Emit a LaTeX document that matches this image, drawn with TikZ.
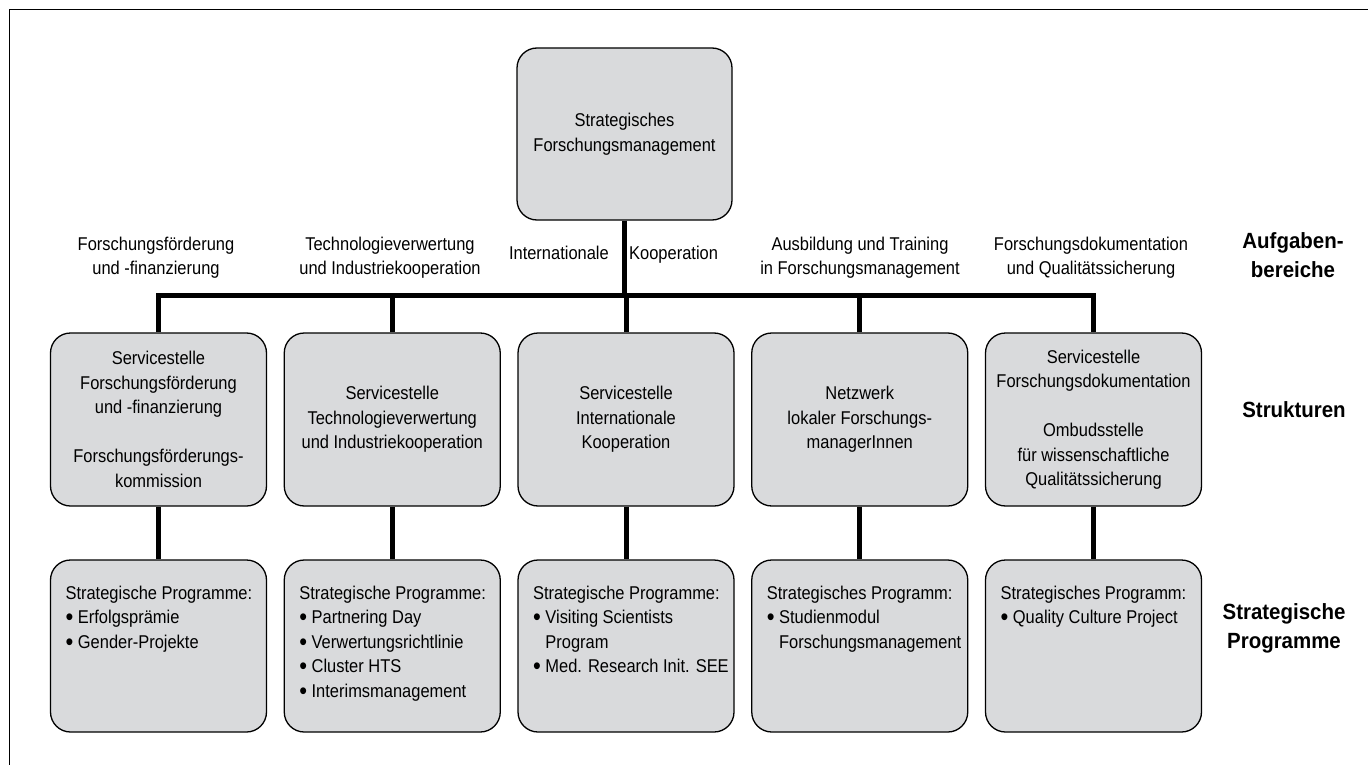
\documentclass[tikz,border=0pt]{standalone}
\usepackage{fontspec}
\setmainfont{Liberation Sans}[FakeStretch=0.89]
\newfontfamily\labelfont{Liberation Sans}[FakeStretch=0.93]
\definecolor{boxgray}{HTML}{D9DADC}
\newcommand\mybul{\raisebox{-0.11em}{\scalebox{1.35}{\textbullet}}}
\begin{document}
\begin{tikzpicture}[x=1pt,y=-1pt,
  txt/.style={font=\fontsize{18.5}{24.5}\selectfont, inner sep=0pt, align=center},
  cat/.style={font=\labelfont\bfseries\fontsize{22}{29}\selectfont, inner sep=0pt, align=center},
  gbox/.style={draw=black, line width=1.3pt, fill=boxgray, rounded corners=20pt,
    minimum width=216pt, minimum height=173pt, inner sep=0pt,
    font=\fontsize{18.5}{24.5}\selectfont, align=center},
  ptext/.style={font=\fontsize{18.5}{24.5}\selectfont, inner sep=0pt, align=left, anchor=north west},
  conn/.style={line width=5pt, line join=miter, line cap=butt},
  frame/.style={line width=1.5pt}]
\useasboundingbox (0,0) rectangle (1368,765);
\draw[frame] (9.5,780) -- (9.5,9.5) -- (1380,9.5);

% top box
\node[gbox, minimum width=215pt, minimum height=172pt] (top) at (624.5,134) {Strategisches\\Forschungsmanagement};

% structure boxes
\node[gbox] (s1) at (158.5,419.5) {Servicestelle\\Forschungsförderung\\und -finanzierung\\[24.5pt]Forschungsförderungs-\\kommission};
\node[gbox] (s2) at (392.25,419.5) {Servicestelle\\Technologieverwertung\\und Industriekooperation};
\node[gbox] (s3) at (626,419.5) {Servicestelle\\Internationale\\Kooperation};
\node[gbox] (s4) at (859.75,419.5) {Netzwerk\\lokaler Forschungs-\\managerInnen};
\node[gbox] (s5) at (1093.5,419.5) {Servicestelle\\Forschungsdokumentation\\[24.5pt]Ombudsstelle\\für wissenschaftliche\\Qualitätssicherung};

% programme boxes
\node[gbox, minimum height=172pt] (p1) at (158.5,646) {};
\node[gbox, minimum height=172pt] (p2) at (392.25,646) {};
\node[gbox, minimum height=172pt] (p3) at (626,646) {};
\node[gbox, minimum height=172pt] (p4) at (859.75,646) {};
\node[gbox, minimum height=172pt] (p5) at (1093.5,646) {};

\node[ptext] (t1) at ([xshift=15.5pt,yshift=-26.5pt]p1.north west) {Strategische Programme:\\\mybul\ Erfolgsprämie\\\mybul\ Gender-Projekte};
\node[ptext] (t2) at ([xshift=15.5pt,yshift=-26.5pt]p2.north west) {Strategische Programme:\\\mybul\ Partnering Day\\\mybul\ Verwertungsrichtlinie\\\mybul\ Cluster HTS\\\mybul\ Interimsmanagement};
\node[ptext] (t3) at ([xshift=15.5pt,yshift=-26.5pt]p3.north west) {Strategische Programme:\\\mybul\ Visiting Scientists\\\phantom{\mybul\ }Program\\\mybul\ Med. Research Init. SEE};
\node[ptext] (t4) at ([xshift=15.5pt,yshift=-26.5pt]p4.north west) {Strategisches Programm:\\\mybul\ Studienmodul\\\phantom{\mybul\ }Forschungsmanagement};
\node[ptext] (t5) at ([xshift=15.5pt,yshift=-26.5pt]p5.north west) {Strategisches Programm:\\\mybul\ Quality Culture Project};

% connectors
\coordinate (bus) at (0,295);
\draw[conn] (top.south) -- (top.south |- bus);
\draw[conn] (s1.north) -- (s1.north |- bus) -- (s5.north |- bus) -- (s5.north);
\draw[conn] (s2.north) -- (s2.north |- bus);
\draw[conn] (s3.north) -- (s3.north |- bus);
\draw[conn] (s4.north) -- (s4.north |- bus);
\draw[conn] (s1.south) -- (p1.north);
\draw[conn] (s2.south) -- (p2.north);
\draw[conn] (s3.south) -- (p3.north);
\draw[conn] (s4.south) -- (p4.north);
\draw[conn] (s5.south) -- (p5.north);

% area labels
\node[txt] (a1) at (156,257.5) {Forschungsförderung\\und -finanzierung};
\node[txt] (a2) at (390,257.5) {Technologieverwertung\\und Industriekooperation};
\node[txt, anchor=base east] (a3l) at (609,259) {Internationale};
\node[txt, anchor=base west] (a3r) at (629,259) {Kooperation};
\node[txt] (a4) at (860,257.5) {Ausbildung und Training\\in Forschungsmanagement};
\node[txt] (a5) at (1091,257.5) {Forschungsdokumentation\\und Qualitätssicherung};

% category labels
\node[cat] (c1) at (1293,255) {Aufgaben-\\bereiche};
\node[cat] (c2) at (1294,410) {Strukturen};
\node[cat] (c3) at (1284,628) {Strategische\\Programme};
\end{tikzpicture}
\end{document}
